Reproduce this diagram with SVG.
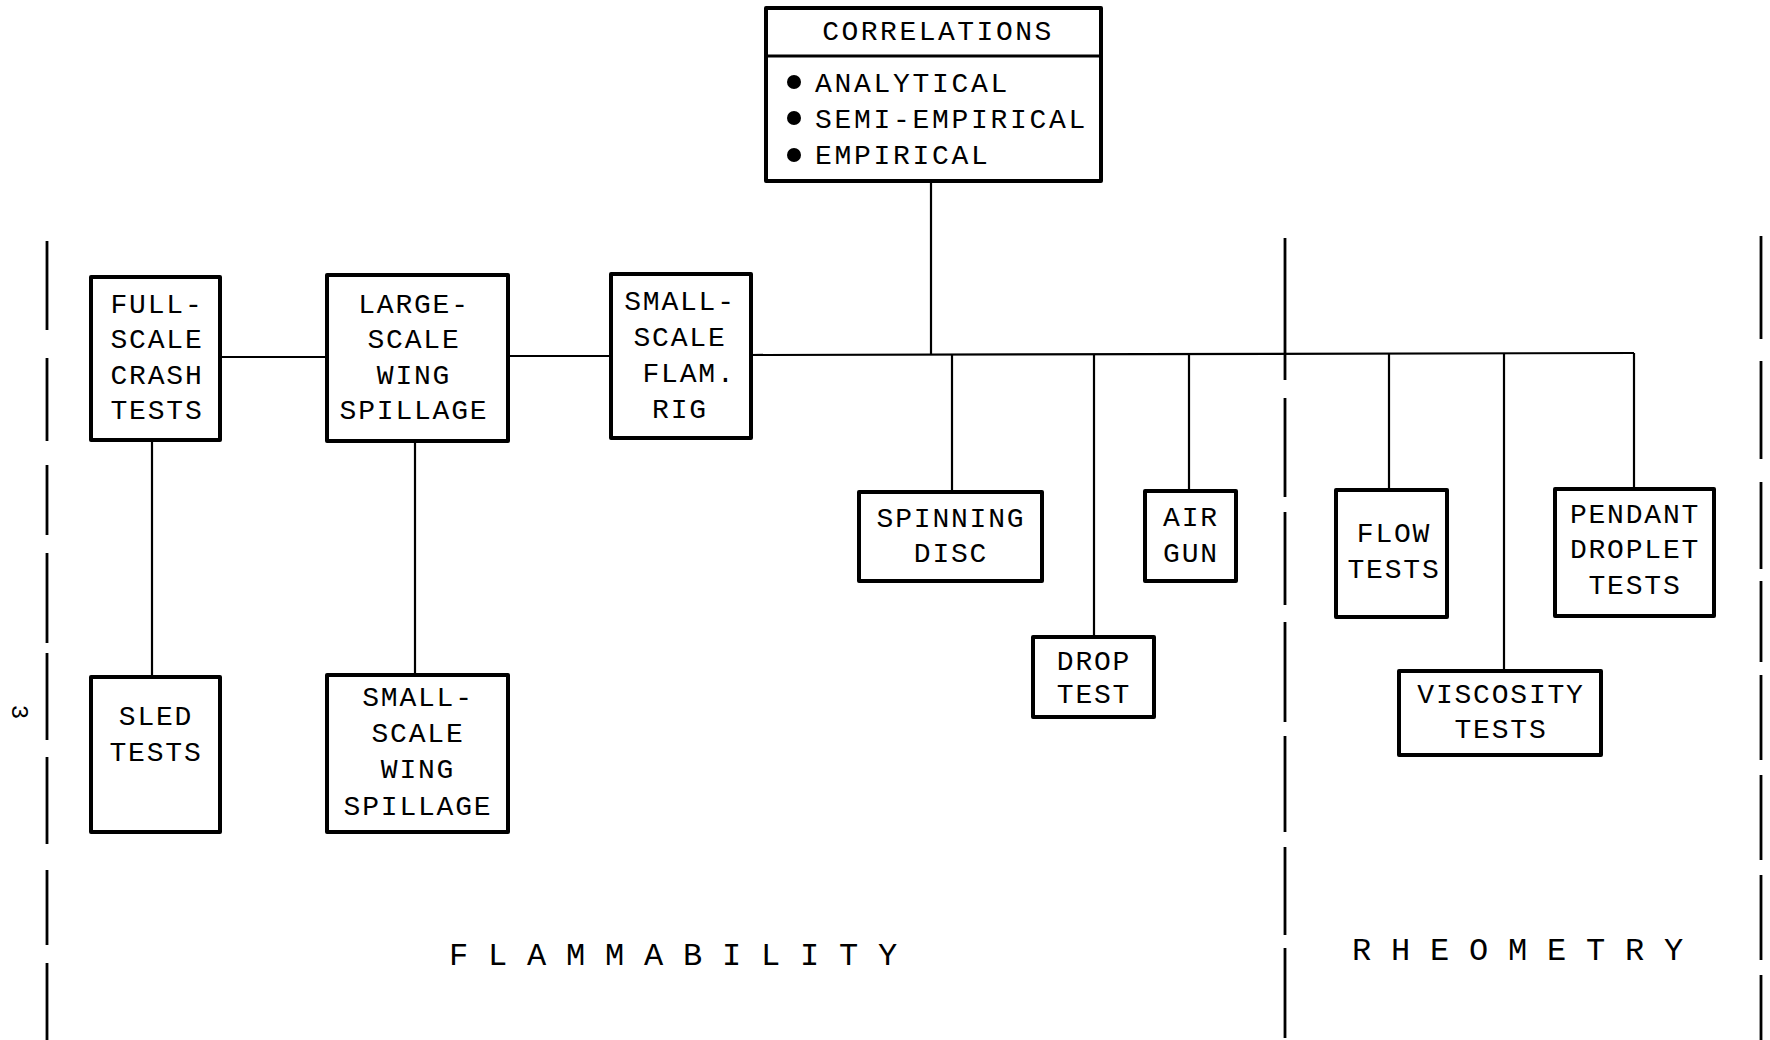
<svg xmlns="http://www.w3.org/2000/svg" width="1770" height="1040" viewBox="0 0 1770 1040">
<style>
.box{fill:#fff;stroke:#000;stroke-width:4;stroke-linejoin:round}
.ln{fill:none;stroke:#000;stroke-width:2.2}
.dv{fill:none;stroke:#000;stroke-width:2.8}
text{font-family:"Liberation Mono","DejaVu Sans Mono",monospace;fill:#000}
.t{font-size:28px;letter-spacing:1.8px;text-anchor:middle}
.c{font-size:28px;letter-spacing:2.7px}
.h{font-size:28px;letter-spacing:2.5px;text-anchor:middle}
.big{font-size:32px;letter-spacing:19.8px}
</style>
<rect width="1770" height="1040" fill="#fff"/>
<g id="dividers">
<path class="dv" d="M47 241V330M47 358V441M47 465V535M47 553V643M47 653V740M47 757V844M47 870V945M47 963V1040"/>
<path class="dv" d="M1285 238V380M1285 398V497M1285 512V605M1285 622V722M1285 736V832M1285 847V935M1285 948V1038"/>
<path class="dv" d="M1761 236V339M1761 361V459M1761 482V569M1761 581V662M1761 675V760M1761 775V860M1761 875V960M1761 975V1040"/>
</g>
<g id="connectors">
<path class="ln" d="M220 357H327"/>
<path class="ln" d="M508 356H611"/>
<path class="ln" d="M751 355L1634 353"/>
<path class="ln" d="M931 181V355"/>
<path class="ln" d="M952 355V492"/>
<path class="ln" d="M1094 355V637"/>
<path class="ln" d="M1189 355V491"/>
<path class="ln" d="M1389 354V490"/>
<path class="ln" d="M1504 354V671"/>
<path class="ln" d="M1634 353V489"/>
<path class="ln" d="M152 440V677"/>
<path class="ln" d="M415 441V675"/>
</g>
<g id="correlations">
<rect class="box" x="766" y="8" width="335" height="173"/>
<path class="ln" d="M766 56H1101" style="stroke-width:3"/>
<text class="h" x="938" y="40">CORRELATIONS</text>
<circle cx="794" cy="82" r="7"/>
<circle cx="794" cy="118" r="7"/>
<circle cx="794" cy="155" r="7"/>
<text class="c" x="815" y="92">ANALYTICAL</text>
<text class="c" x="815" y="128">SEMI-EMPIRICAL</text>
<text class="c" x="815" y="164">EMPIRICAL</text>
</g>
<g id="full-scale-crash-tests">
<rect class="box" x="91" y="277" width="129" height="163"/>
<text class="t" x="157" y="313">FULL-</text>
<text class="t" x="157" y="348">SCALE</text>
<text class="t" x="157" y="384">CRASH</text>
<text class="t" x="157" y="419">TESTS</text>
</g>
<g id="large-scale-wing-spillage">
<rect class="box" x="327" y="275" width="181" height="166"/>
<text class="t" x="414" y="313">LARGE-</text>
<text class="t" x="414" y="348">SCALE</text>
<text class="t" x="414" y="384">WING</text>
<text class="t" x="414" y="419">SPILLAGE</text>
</g>
<g id="small-scale-flam-rig">
<rect class="box" x="611" y="274" width="140" height="164"/>
<text class="t" x="680" y="310">SMALL-</text>
<text class="t" x="680" y="346">SCALE</text>
<text class="t" x="689" y="382">FLAM.</text>
<text class="t" x="680" y="418">RIG</text>
</g>
<g id="spinning-disc">
<rect class="box" x="859" y="492" width="183" height="89"/>
<text class="t" x="951" y="527">SPINNING</text>
<text class="t" x="951" y="562">DISC</text>
</g>
<g id="drop-test">
<rect class="box" x="1033" y="637" width="121" height="80"/>
<text class="t" x="1094" y="670">DROP</text>
<text class="t" x="1094" y="703">TEST</text>
</g>
<g id="air-gun">
<rect class="box" x="1145" y="491" width="91" height="90"/>
<text class="t" x="1191" y="526">AIR</text>
<text class="t" x="1191" y="562">GUN</text>
</g>
<g id="flow-tests">
<rect class="box" x="1336" y="490" width="111" height="127"/>
<text class="t" x="1394" y="542">FLOW</text>
<text class="t" x="1394" y="578">TESTS</text>
</g>
<g id="viscosity-tests">
<rect class="box" x="1399" y="671" width="202" height="84"/>
<text class="t" x="1501" y="703">VISCOSITY</text>
<text class="t" x="1501" y="738">TESTS</text>
</g>
<g id="pendant-droplet-tests">
<rect class="box" x="1555" y="489" width="159" height="127"/>
<text class="t" x="1635" y="523">PENDANT</text>
<text class="t" x="1635" y="558">DROPLET</text>
<text class="t" x="1635" y="594">TESTS</text>
</g>
<g id="sled-tests">
<rect class="box" x="91" y="677" width="129" height="155"/>
<text class="t" x="156" y="725">SLED</text>
<text class="t" x="156" y="761">TESTS</text>
</g>
<g id="small-scale-wing-spillage">
<rect class="box" x="327" y="675" width="181" height="157"/>
<text class="t" x="418" y="706">SMALL-</text>
<text class="t" x="418" y="742">SCALE</text>
<text class="t" x="418" y="778">WING</text>
<text class="t" x="418" y="815">SPILLAGE</text>
</g>
<g id="labels">
<text class="big" x="449" y="965">FLAMMABILITY</text>
<text class="big" x="1352" y="960">RHEOMETRY</text>
<text x="18" y="712" font-size="24" text-anchor="middle" dominant-baseline="central" transform="rotate(90 18 712)">3</text>
</g>
</svg>
